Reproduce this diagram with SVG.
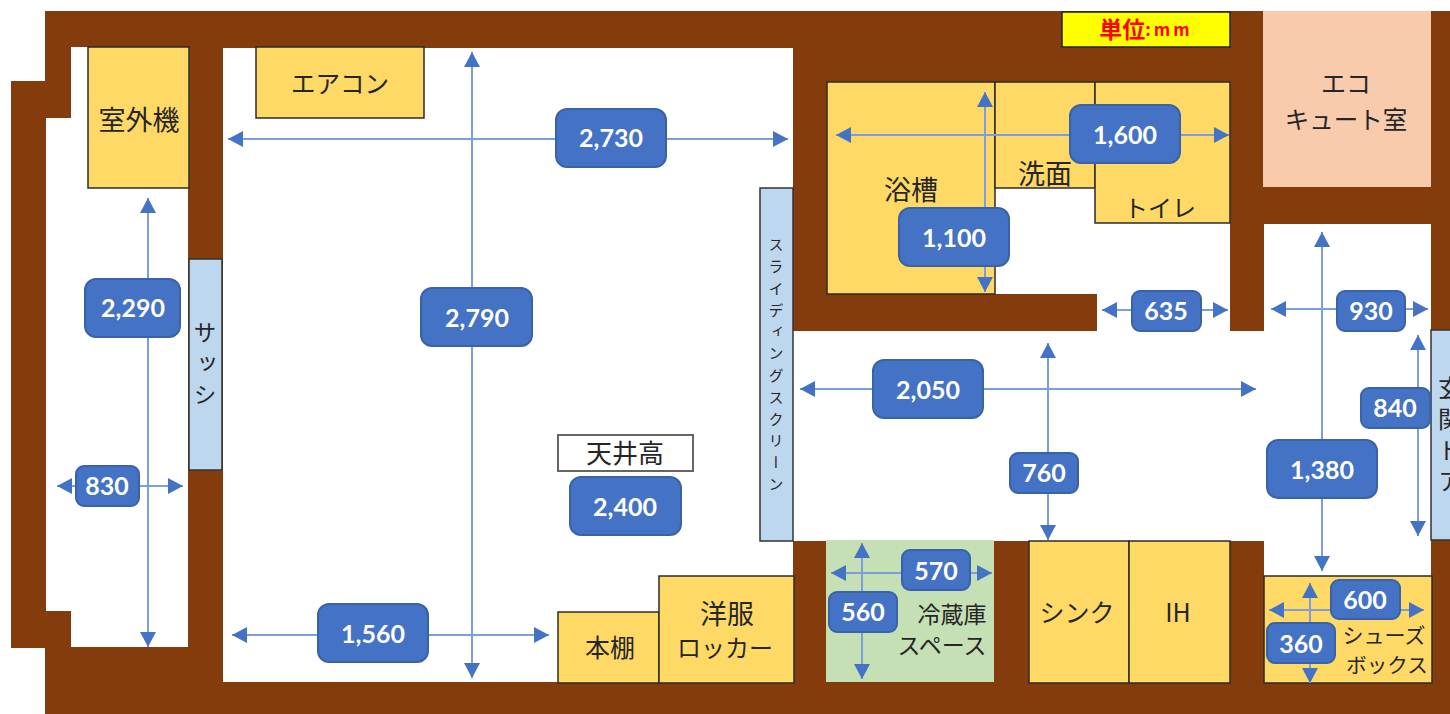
<svg xmlns="http://www.w3.org/2000/svg" width="1450" height="714" viewBox="0 0 1450 714">
<style>
.jp{font-family:"Noto Sans CJK JP","Noto Sans",sans-serif;fill:#262626;text-anchor:middle;dominant-baseline:central;font-weight:400;transform:translateY(-2px)}
.b{fill:#4472c4;stroke:#3a62a8;stroke-width:2}
.bt{font-family:Lato,"Liberation Sans",sans-serif;font-weight:700;font-size:25px;fill:#fff;text-anchor:middle;dominant-baseline:central;transform:translateY(-1px)}
.y{fill:#ffd966;stroke:#2b2b2b;stroke-width:1.5}
.s{fill:#bdd7ee;stroke:#333;stroke-width:1.5}
.l{stroke:#7c9fdc;stroke-width:2;fill:none;marker-start:url(#a);marker-end:url(#a)}
.v{writing-mode:vertical-rl;text-orientation:upright;text-anchor:start;dominant-baseline:auto;transform:none}
</style>
<defs>
<marker id="a" viewBox="0 0 15 16" refX="15" refY="8" markerWidth="15" markerHeight="16" markerUnits="userSpaceOnUse" orient="auto-start-reverse"><path d="M0 0L15 8L0 16Z" fill="#4472c4"/></marker>
</defs>
<rect width="1450" height="714" fill="#fff"/>
<g id="walls">
<path d="M45 11H1450V714H45V648H11V81H45Z" fill="#843c0c"/>
<path fill="#fff" d="M71 47H188V647H71V611H46V118H71Z"/>
<rect x="223" y="48" width="570" height="634" fill="#fff"/>
<path fill="#fff" d="M793 331H1097V223H1230V331H1264V224H1431V576H1264V541H793Z"/>
<rect x="995" y="188" width="102" height="106" fill="#fff"/>
</g>
<g id="outdoor-unit"><rect class="y" x="88" y="47" width="101" height="141"/><text class="jp" x="139" y="120" font-size="27">室外機</text></g>
<g id="aircon"><rect class="y" x="256" y="47" width="168" height="71"/><text class="jp" x="340" y="84" font-size="24.5">エアコン</text></g>
<g id="sash"><rect class="s" x="189" y="259" width="33" height="211"/><text class="jp v" x="205" y="321" font-size="23" letter-spacing="8">サッシ</text></g>
<g id="screen"><rect class="s" x="760" y="188" width="33" height="353"/><text class="jp v" x="776" y="237" font-size="15" letter-spacing="6.8">スライディングスクリーン</text></g>
<g id="bookshelf"><rect class="y" x="558" y="612" width="101" height="71"/><text class="jp" x="610" y="648" font-size="25">本棚</text></g>
<g id="locker"><rect class="y" x="659" y="576" width="135" height="107"/><text class="jp" x="727" y="614" font-size="27">洋服</text><text class="jp" x="725" y="648" font-size="24">ロッカー</text></g>
<g id="unit"><rect x="1062" y="12" width="168" height="35" fill="#ff0" stroke="#222" stroke-width="1.5"/><text x="1146" y="28" text-anchor="middle" dominant-baseline="central" fill="#f00" font-family="'Noto Sans CJK JP',sans-serif" font-weight="700" font-size="23">単位<tspan font-size="17" letter-spacing="3">:mm</tspan></text></g>
<g id="bath"><rect class="y" x="827" y="82" width="168" height="212"/><text class="jp" x="911" y="190" font-size="27">浴槽</text></g>
<g id="washroom"><rect class="y" x="995" y="82" width="100" height="106"/><text class="jp" x="1045" y="174" font-size="27">洗面</text></g>
<g id="toilet"><rect class="y" x="1095" y="82" width="135" height="141"/><text class="jp" x="1160" y="208" font-size="24">トイレ</text></g>
<g id="ecocute"><rect x="1263" y="11" width="168" height="176" fill="#f8cbad"/><text class="jp" x="1346" y="84" font-size="25">エコ</text><text class="jp" x="1346" y="120" font-size="24.5">キュート室</text></g>
<g id="door"><rect class="s" x="1431" y="330" width="30" height="210"/><text class="jp v" x="1450" y="376" font-size="24" letter-spacing="7">玄関ドア</text></g>
<g id="fridge"><rect x="826" y="540" width="168" height="142" fill="#c5e0b4"/><text class="jp" x="952" y="615" font-size="23">冷蔵庫</text><text class="jp" x="942" y="646" font-size="23">スペース</text></g>
<g id="sink"><rect class="y" x="1029" y="541" width="100" height="142"/><text class="jp" x="1077" y="613" font-size="25">シンク</text></g>
<g id="ih"><rect class="y" x="1129" y="541" width="101" height="142"/><text class="jp" x="1178" y="613" font-size="25">IH</text></g>
<g id="shoebox"><rect class="y" x="1264" y="576" width="168" height="107"/><text class="jp" x="1384" y="636" font-size="21">シューズ</text><text class="jp" x="1387" y="666" font-size="20.5">ボックス</text></g>
<g id="ceiling"><rect x="558" y="435" width="135" height="36" fill="#fff" stroke="#666" stroke-width="2"/><text class="jp" x="625" y="453" font-size="26">天井高</text></g>
<g id="connectors">
<line class="l" x1="228" y1="139" x2="788" y2="139"/>
<line class="l" x1="472" y1="52" x2="472" y2="678"/>
<line class="l" x1="148" y1="198" x2="148" y2="647"/>
<line class="l" x1="57" y1="486" x2="183" y2="486"/>
<line class="l" x1="232" y1="635" x2="549" y2="635"/>
<line class="l" x1="836" y1="135" x2="1229" y2="135"/>
<line class="l" x1="985" y1="92" x2="985" y2="292"/>
<line class="l" x1="1102" y1="310" x2="1228" y2="310"/>
<line class="l" x1="1271" y1="309" x2="1428" y2="309"/>
<line class="l" x1="1322" y1="232" x2="1322" y2="571"/>
<line class="l" x1="1418" y1="335" x2="1418" y2="536"/>
<line class="l" x1="800" y1="389" x2="1256" y2="389"/>
<line class="l" x1="1048" y1="343" x2="1048" y2="540"/>
<line class="l" x1="831" y1="573" x2="992" y2="573"/>
<line class="l" x1="862" y1="543" x2="862" y2="679"/>
<line class="l" x1="1269" y1="610" x2="1424" y2="610"/>
<line class="l" x1="1310" y1="583" x2="1310" y2="683"/>
</g>
<g id="d2730"><rect class="b" x="556" y="109" width="110" height="58" rx="11"/><text class="bt" x="611" y="138">2,730</text></g>
<g id="d2790"><rect class="b" x="421" y="288" width="111" height="58" rx="11"/><text class="bt" x="477" y="318">2,790</text></g>
<g id="d2290"><rect class="b" x="85" y="279" width="95" height="58" rx="11"/><text class="bt" x="133" y="308">2,290</text></g>
<g id="d830"><rect class="b" x="76" y="466" width="63" height="40" rx="8"/><text class="bt" x="107" y="486">830</text></g>
<g id="d1560"><rect class="b" x="318" y="604" width="110" height="58" rx="11"/><text class="bt" x="373" y="634">1,560</text></g>
<g id="d2400"><rect class="b" x="570" y="477" width="111" height="58" rx="11"/><text class="bt" x="625" y="507">2,400</text></g>
<g id="d1600"><rect class="b" x="1070" y="105" width="110" height="58" rx="11"/><text class="bt" x="1125" y="135">1,600</text></g>
<g id="d1100"><rect class="b" x="899" y="208" width="110" height="58" rx="11"/><text class="bt" x="954" y="238">1,100</text></g>
<g id="d635"><rect class="b" x="1132" y="291" width="69" height="40" rx="8"/><text class="bt" x="1166" y="311">635</text></g>
<g id="d930"><rect class="b" x="1337" y="291" width="68" height="40" rx="8"/><text class="bt" x="1371" y="311">930</text></g>
<g id="d1380"><rect class="b" x="1267" y="440" width="110" height="58" rx="11"/><text class="bt" x="1322" y="470">1,380</text></g>
<g id="d840"><rect class="b" x="1361" y="388" width="69" height="40" rx="8"/><text class="bt" x="1395" y="408">840</text></g>
<g id="d2050"><rect class="b" x="873" y="360" width="110" height="58" rx="11"/><text class="bt" x="928" y="390">2,050</text></g>
<g id="d760"><rect class="b" x="1010" y="453" width="68" height="40" rx="8"/><text class="bt" x="1044" y="473">760</text></g>
<g id="d570"><rect class="b" x="902" y="550" width="68" height="40" rx="8"/><text class="bt" x="936" y="571">570</text></g>
<g id="d560"><rect class="b" x="829" y="592" width="68" height="40" rx="8"/><text class="bt" x="863" y="612">560</text></g>
<g id="d600"><rect class="b" x="1331" y="580" width="69" height="39" rx="8"/><text class="bt" x="1365" y="600">600</text></g>
<g id="d360"><rect class="b" x="1267" y="623" width="68" height="40" rx="8"/><text class="bt" x="1301" y="644">360</text></g>
</svg>
